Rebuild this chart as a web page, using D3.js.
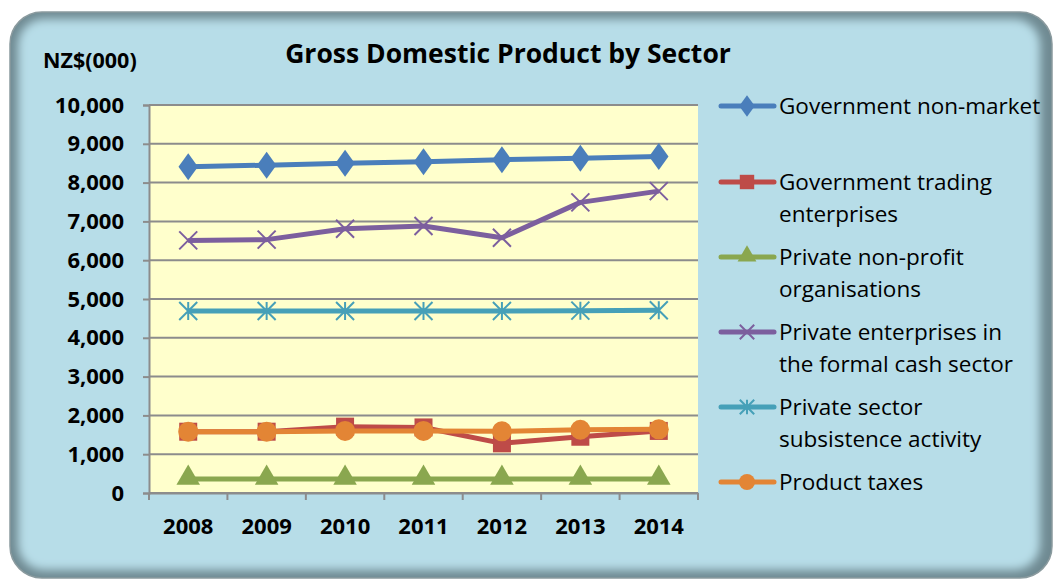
<!DOCTYPE html>
<html>
<head>
<meta charset="utf-8">
<script src="https://cdn.jsdelivr.net/npm/d3@7"></script>
<style>
body{margin:0;background:#fff;}
text{font-family:"Open Sans",Lato,sans-serif;}
</style>
</head>
<body>
<div class="graph"></div>
<script>
var years=["2008","2009","2010","2011","2012","2013","2014"];
var govNonMarket=[8410,8450,8500,8540,8590,8630,8670];
var govTrading=[1580,1580,1710,1690,1280,1450,1600];
var privNonProfit=[360,360,360,360,360,360,360];
var privFormal=[6510,6530,6810,6880,6580,7490,7780];
var privSubsistence=[4690,4690,4690,4690,4690,4700,4710];
var productTaxes=[1580,1580,1600,1600,1590,1630,1640];
var yTicks=[0,1000,2000,3000,4000,5000,6000,7000,8000,9000,10000];

var series=[
 {name:["Government non-market"],values:govNonMarket,color:"#4a7ebb",marker:"diamond"},
 {name:["Government trading","enterprises"],values:govTrading,color:"#be4b48",marker:"square"},
 {name:["Private non-profit","organisations"],values:privNonProfit,color:"#8aa74f",marker:"triangle"},
 {name:["Private enterprises in","the formal cash sector"],values:privFormal,color:"#7c5f9e",marker:"x"},
 {name:["Private sector","subsistence activity"],values:privSubsistence,color:"#46a0b8",marker:"star"},
 {name:["Product taxes"],values:productTaxes,color:"#e38535",marker:"circle"}
];

var W=1055,H=580;
var svg=d3.select(".graph").append("svg").attr("width",W).attr("height",H);
var defs=svg.append("defs");
defs.append("filter").attr("id","soft").attr("x","-10%").attr("y","-10%").attr("width","120%").attr("height","120%")
 .append("feGaussianBlur").attr("stdDeviation",5);
defs.append("clipPath").attr("id","frameclip").append("rect")
 .attr("x",10).attr("y",12).attr("width",1042).attr("height",566).attr("rx",32);

// frame with soft dark edge
svg.append("rect").attr("x",10).attr("y",12).attr("width",1042).attr("height",566).attr("rx",32)
 .style("fill","#6f8a92");
svg.append("g").attr("clip-path","url(#frameclip)").append("rect")
 .attr("x",18).attr("y",19).attr("width",1022).attr("height",551).attr("rx",26)
 .attr("filter","url(#soft)").style("fill","#b7dde8");
svg.append("rect").attr("x",10).attr("y",12).attr("width",1042).attr("height",566).attr("rx",32)
 .style("fill","none").style("stroke","#8a9a9e").style("stroke-width",1.5);

var plot={left:149,right:698,top:105,bottom:493};
var x=d3.scaleBand().domain(years).range([plot.left,plot.right]);
var y=d3.scaleLinear().domain([0,10000]).range([plot.bottom,plot.top]);

svg.append("rect").attr("x",plot.left).attr("y",plot.top).attr("width",plot.right-plot.left).attr("height",plot.bottom-plot.top)
 .style("fill","#ffffcc");

// gridlines
svg.selectAll(".grid").data(yTicks).enter().append("line")
 .attr("x1",plot.left).attr("x2",plot.right).attr("y1",function(d){return y(d);}).attr("y2",function(d){return y(d);})
 .style("stroke","#8c8c8c").style("stroke-width",2);

// y axis
var yAxis=svg.append("g").attr("transform","translate("+plot.left+",0)")
 .call(d3.axisLeft(y).tickValues(yTicks).tickFormat(d3.format(",")).tickSize(6).tickPadding(19));
yAxis.select(".domain").style("stroke","#8c8c8c").style("stroke-width",2);
yAxis.selectAll(".tick line").style("stroke","#8c8c8c").style("stroke-width",2);
yAxis.selectAll("text").style("font-size","22px").style("font-weight","bold").style("fill","#000")
 .style("font-family","'Open Sans',sans-serif");

// x axis
var xAxis=svg.append("g").attr("transform","translate(0,"+plot.bottom+")")
 .call(d3.axisBottom(x).tickSize(0).tickPadding(25));
xAxis.select(".domain").style("stroke","#8c8c8c").style("stroke-width",2);
xAxis.selectAll("text").style("font-size","22px").style("font-weight","bold").style("fill","#000")
 .style("font-family","'Open Sans',sans-serif");
var bounds=years.map(function(d){return x(d);}).concat([plot.right]);
svg.selectAll(".xt").data(bounds).enter().append("line")
 .attr("x1",function(d){return d;}).attr("x2",function(d){return d;}).attr("y1",plot.bottom).attr("y2",plot.bottom+7)
 .style("stroke","#8c8c8c").style("stroke-width",2);

// markers
function drawMarker(g,type,color,cx,cy,s){
  s=s||1;
  if(type==="diamond"){
    g.append("path").attr("d",d3.symbol().type(d3.symbolDiamond).size(210*s*s)()).attr("transform","translate("+cx+","+cy+") scale(1.25,1)").style("fill",color);
  } else if(type==="square"){
    g.append("rect").attr("x",cx-9*s).attr("y",cy-9*s).attr("width",18*s).attr("height",18*s).style("fill",color);
  } else if(type==="triangle"){
    g.append("path").attr("d",d3.symbol().type(d3.symbolTriangle).size(240*s*s)()).attr("transform","translate("+cx+","+(cy-1)+")").style("fill",color);
  } else if(type==="circle"){
    g.append("circle").attr("cx",cx).attr("cy",cy).attr("r",10*s).style("fill",color);
  } else if(type==="x"){
    var r=9*s;
    g.append("path").attr("d","M"+(cx-r)+","+(cy-r)+"L"+(cx+r)+","+(cy+r)+"M"+(cx-r)+","+(cy+r)+"L"+(cx+r)+","+(cy-r))
     .style("stroke",color).style("stroke-width",2);
  } else if(type==="star"){
    var r2=9*s;
    g.append("path").attr("d","M"+(cx-r2)+","+(cy-r2)+"L"+(cx+r2)+","+(cy+r2)+"M"+(cx-r2)+","+(cy+r2)+"L"+(cx+r2)+","+(cy-r2)+"M"+cx+","+(cy-r2)+"L"+cx+","+(cy+r2))
     .style("stroke",color).style("stroke-width",2);
  }
}

var line=d3.line().x(function(d,i){return x(years[i])+x.bandwidth()/2;}).y(function(d){return y(d);});
series.forEach(function(s){
  var g=svg.append("g");
  g.append("path").datum(s.values).attr("d",line).style("fill","none").style("stroke",s.color).style("stroke-width",5).style("stroke-linejoin","round");
  s.values.forEach(function(v,i){
    drawMarker(g,s.marker,s.color,x(years[i])+x.bandwidth()/2,y(v));
  });
});

// legend
var legY=[106,182,257,332,407,482];
series.forEach(function(s,i){
  var g=svg.append("g");
  g.append("line").attr("x1",721).attr("x2",774).attr("y1",legY[i]).attr("y2",legY[i])
   .style("stroke",s.color).style("stroke-width",5).style("stroke-linecap","round");
  drawMarker(g,s.marker,s.color,747,legY[i],0.8);
  s.name.forEach(function(t,j){
    g.append("text").attr("x",779).attr("y",legY[i]+j*32).attr("dy","0.35em")
     .style("font-size","22.5px").style("fill","#000").text(t);
  });
});

// titles
svg.append("text").attr("x",508).attr("y",54).attr("dy","0.35em").attr("text-anchor","middle")
 .style("font-size","26.5px").style("font-weight","bold").text("Gross Domestic Product by Sector");
svg.append("text").attr("x",43).attr("y",60).attr("dy","0.35em")
 .style("font-size","21.5px").style("font-weight","bold").text("NZ$(000)");
</script>
</body>
</html>
